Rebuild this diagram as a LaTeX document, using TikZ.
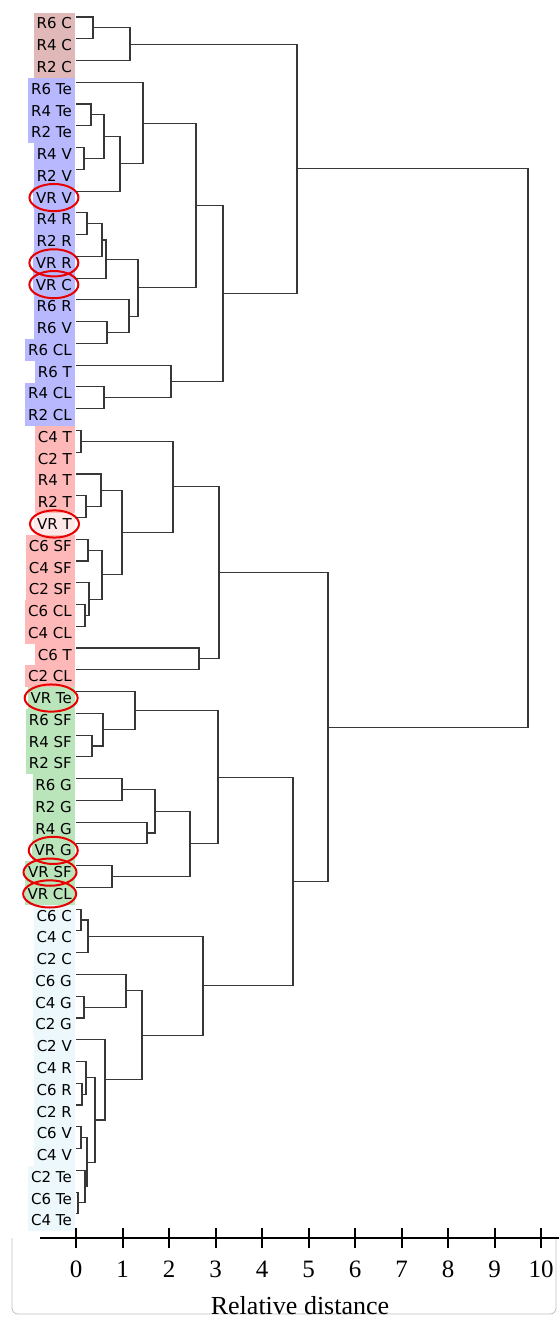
\documentclass[tikz,border=0pt]{standalone}
\usepackage{fontspec}
\setmainfont{Liberation Serif}
\newfontfamily\labfont{DejaVu Sans}
\usetikzlibrary{calc}
\definecolor{rosebox}{RGB}{224,184,184}
\definecolor{bluebox}{RGB}{184,184,255}
\definecolor{pinkbox}{RGB}{255,184,184}
\definecolor{paleredbox}{RGB}{255,232,232}
\definecolor{greenbox}{RGB}{186,228,186}
\definecolor{cyanbox}{RGB}{236,248,252}
\definecolor{branchgray}{RGB}{55,55,55}
\definecolor{ringred}{RGB}{232,0,0}

% parent, height (px), first child, second child
\newcommand{\fuse}[4]{%
  \coordinate (fx) at (#2,0);
  \coordinate (m#1) at ($(#3)!.5!(#4)$);
  \coordinate (#1) at (m#1 -| fx);
  \draw[branch] (#3) -| (#1) |- (#4);}

\begin{document}
\begin{tikzpicture}[
  x=0.5pt, y=-0.5pt,
  leaflab/.style={anchor=east, font=\labfont\fontsize{7.5}{9}\selectfont,
                  minimum height=10.88pt, inner xsep=1.4pt, inner ysep=0pt,
                  text height=5.5pt, text depth=0pt},
  branch/.style={draw=branchgray, line width=0.55pt},
  ring/.style={draw=ringred, line width=1pt},
  axisline/.style={draw=black, line width=1.1pt},
  tickmark/.style={draw=black, line width=1pt},
  ticklab/.style={font=\fontsize{12.5}{14}\selectfont},
  axtitle/.style={font=\fontsize{13}{15}\selectfont},
  frame/.style={draw=black!25, line width=0.4pt, rounded corners=3pt},
]
\useasboundingbox (0,0) rectangle (559,1320);

% leaves
\foreach \n/\t/\c [count=\i from 0] in {
  r6c/R6 C/rosebox, r4c/R4 C/rosebox, r2c/R2 C/rosebox,
  r6te/R6 Te/bluebox, r4te/R4 Te/bluebox, r2te/R2 Te/bluebox,
  r4v/R4 V/bluebox, r2v/R2 V/bluebox, vrv/VR V/bluebox,
  r4r/R4 R/bluebox, r2r/R2 R/bluebox, vrr/VR R/bluebox, vrc/VR C/bluebox,
  r6r/R6 R/bluebox, r6v/R6 V/bluebox, r6cl/R6 CL/bluebox,
  r6t/R6 T/bluebox, r4cl/R4 CL/bluebox, r2cl/R2 CL/bluebox,
  c4t/C4 T/pinkbox, c2t/C2 T/pinkbox, r4t/R4 T/pinkbox, r2t/R2 T/pinkbox,
  vrt/VR T/paleredbox, c6sf/C6 SF/pinkbox, c4sf/C4 SF/pinkbox, c2sf/C2 SF/pinkbox,
  c6cl/C6 CL/pinkbox, c4cl/C4 CL/pinkbox, c6t/C6 T/pinkbox, c2cl/C2 CL/pinkbox,
  vrte/VR Te/greenbox, r6sf/R6 SF/greenbox, r4sf/R4 SF/greenbox,
  r2sf/R2 SF/greenbox, r6g/R6 G/greenbox, r2g/R2 G/greenbox, r4g/R4 G/greenbox,
  vrg/VR G/greenbox, vrsf/VR SF/greenbox, vrcl/VR CL/greenbox,
  c6c/C6 C/cyanbox, c4c/C4 C/cyanbox, c2c/C2 C/cyanbox,
  c6g/C6 G/cyanbox, c4g/C4 G/cyanbox, c2g/C2 G/cyanbox,
  c2v/C2 V/cyanbox, c4r/C4 R/cyanbox, c6r/C6 R/cyanbox, c2r/C2 R/cyanbox,
  c6v/C6 V/cyanbox, c4v/C4 V/cyanbox,
  c2te/C2 Te/cyanbox, c6te/C6 Te/cyanbox, c4te/C4 Te/cyanbox} {
  \pgfmathsetmacro\y{17+21.76*\i}
  \node[leaflab, fill=\c] (\n lab) at (75,\y+6.5) {\t};
  \coordinate (\n) at (76,\y);
}

\foreach \n/\r in {vrv/12.25, vrr/12.25, vrc/12.25, vrt/12.25,
                   vrte/13.25, vrg/12.25, vrsf/13.25, vrcl/13.25}
  \draw[ring] (\n lab.center) ellipse [x radius=\r pt, y radius=6.8pt];

% R-C group and the first big cluster
\fuse{a1}{93}{r6c}{r4c}
\fuse{a}{130}{a1}{r2c}
\fuse{b1}{91}{r4te}{r2te}
\fuse{b2}{84}{r4v}{r2v}
\fuse{b3}{104}{b1}{b2}
\fuse{b4}{120}{b3}{vrv}
\fuse{b5}{143}{r6te}{b4}
\fuse{b6}{87}{r4r}{r2r}
\fuse{b7}{102}{b6}{vrr}
\fuse{b8}{106}{b7}{vrc}
\fuse{b9}{107}{r6v}{r6cl}
\fuse{b10}{129}{r6r}{b9}
\fuse{b11}{138}{b8}{b10}
\fuse{b12}{196}{b5}{b11}
\fuse{b13}{104}{r4cl}{r2cl}
\fuse{b14}{171}{r6t}{b13}
\fuse{b}{223}{b12}{b14}
\fuse{ab}{297}{a}{b}

% T / SF / CL group
\fuse{c1}{81}{c4t}{c2t}
\fuse{c2}{86}{r2t}{vrt}
\fuse{c3}{101}{r4t}{c2}
\fuse{c4}{88}{c6sf}{c4sf}
\fuse{c5}{85}{c6cl}{c4cl}
\fuse{c6}{89}{c2sf}{c5}
\fuse{c7}{102}{c4}{c6}
\fuse{c8}{122}{c3}{c7}
\fuse{c9}{173}{c1}{c8}
\fuse{c10}{199}{c6t}{c2cl}
\fuse{c}{219}{c9}{c10}

% SF / G group
\fuse{d1}{92}{r4sf}{r2sf}
\fuse{d2}{103}{r6sf}{d1}
\fuse{d3}{135}{vrte}{d2}
\fuse{d4}{122}{r6g}{r2g}
\fuse{d5}{147}{r4g}{vrg}
\fuse{d6}{155}{d4}{d5}
\fuse{d7}{112}{vrsf}{vrcl}
\fuse{d8}{190}{d6}{d7}
\fuse{d}{218}{d3}{d8}

% C group
\fuse{e1}{81}{c6c}{c4c}
\fuse{e2}{88}{e1}{c2c}
\fuse{e3}{84}{c4g}{c2g}
\fuse{e4}{126}{c6g}{e3}
\fuse{e5}{82}{c6r}{c2r}
\fuse{e6}{86}{c4r}{e5}
\fuse{e7}{81}{c6v}{c4v}
\fuse{e8}{78}{c6te}{c4te}
\fuse{e9}{85}{c2te}{e8}
\fuse{e10}{87}{e7}{e9}
\fuse{e11}{95}{e6}{e10}
\fuse{e12}{105}{c2v}{e11}
\fuse{e13}{142}{e4}{e12}
\fuse{e}{203}{e2}{e13}

\fuse{de}{293}{d}{e}
\fuse{cde}{328}{c}{de}
\fuse{root}{528}{ab}{cde}

% axis
\draw[frame] (12,1238) -- (12,1314) -- (556,1314) -- (556,1238);
\draw[axisline] (40,1238) -- (559,1238);
\foreach \k in {0,...,10} {
  \draw[tickmark] (76+46.5*\k,1228) -- (76+46.5*\k,1248);
  \node[ticklab] (t\k) at (76+46.5*\k,1269) {\k};
}
\node[axtitle] (title) at (300,1306) {Relative distance};
\end{tikzpicture}
\end{document}
